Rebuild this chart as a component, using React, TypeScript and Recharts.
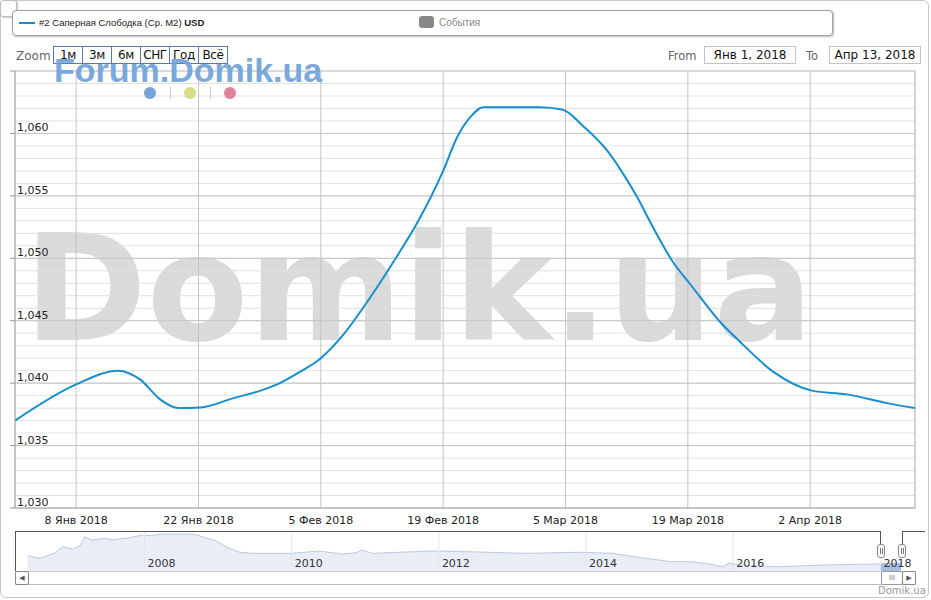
import React from 'react'
import {
  LineChart, Line, XAxis, YAxis, CartesianGrid, ReferenceLine,
  AreaChart, Area, ReferenceArea,
} from 'recharts'

// main series: day offset from Jan 1 2018 -> price, USD per m2
const days = [0, 7, 11.8, 14.3, 16.6, 18.7, 21.2, 25, 28.1, 30, 32.6, 35, 37.6, 40.3, 43.3, 46.4, 49, 50.6, 52.1, 53.6, 60.1, 62.7, 65, 67.8, 69.3, 71.2, 73, 75.3, 77.3, 80.7, 83, 86.8, 91.2, 95.2, 99.8, 103]
const prices = [1037.0, 1039.9, 1041.0, 1040.3, 1038.7, 1038.0, 1038.05, 1038.8, 1039.4, 1039.9, 1040.9, 1042.0, 1043.9, 1046.5, 1049.7, 1053.3, 1057.0, 1059.7, 1061.3, 1062.1, 1062.1, 1061.9, 1060.6, 1058.6, 1057.1, 1054.9, 1052.5, 1049.7, 1047.9, 1044.9, 1043.3, 1040.9, 1039.4, 1039.1, 1038.4, 1038.0]

const xTicks = [7, 21, 35, 49, 63, 77, 91]
const xTickLabels = ['8 Янв 2018', '22 Янв 2018', '5 Фев 2018', '19 Фев 2018', '5 Мар 2018', '19 Мар 2018', '2 Апр 2018']
const yMajor = [1030, 1035, 1040, 1045, 1050, 1055, 1060, 1065]

// navigator: year -> price
const navYears = [2006.41, 2006.58, 2006.78, 2006.89, 2007.02, 2007.12, 2007.19, 2007.28, 2007.48, 2007.57, 2007.8, 2007.97, 2008.07, 2008.24, 2008.61, 2008.71, 2008.98, 2009.11, 2009.29, 2009.47, 2010.01, 2010.37, 2010.69, 2010.88, 2010.96, 2011.09, 2011.91, 2012.41, 2013.18, 2013.9, 2014.35, 2014.81, 2015.16, 2015.44, 2015.71, 2015.85, 2015.94, 2016.11, 2016.58, 2017.25, 2017.93, 2018.28]
const navValues = [1122, 1094, 1151, 1219, 1194, 1230, 1327, 1292, 1310, 1295, 1316, 1346, 1338, 1356, 1356, 1346, 1281, 1219, 1159, 1148, 1148, 1173, 1140, 1154, 1184, 1148, 1173, 1165, 1148, 1159, 1148, 1094, 1057, 1057, 1029, 1003, 1040, 1022, 1003, 1022, 1032, 1040]
const navYearTicks = [2008, 2010, 2012, 2014, 2016, 2018]

const mainData = days.map((d, i) => ({ day: d, price: prices[i] }))
const navData = navYears.map((y, i) => ({ year: y, price: navValues[i] }))
const yTicks = Array.from({ length: 36 }, (_, i) => 1030 + i)

const LINE_COLOR = '#168ed0'
const PLOT_LEFT = 15
const FONT = 'DejaVu Sans, sans-serif'

function YTick({ y, payload }: any) {
  const v = payload.value
  if (v % 5 !== 0) return <g />
  return (
    <g>
      <line x1={PLOT_LEFT - 5} x2={PLOT_LEFT} y1={y} y2={y} stroke="#999" />
      {v < 1065 && (
        <text x={PLOT_LEFT + 2} y={y - 2} fontSize={11} fill="#222" fontFamily={FONT}>
          {v.toLocaleString('en-US')}
        </text>
      )}
    </g>
  )
}

function YearLabel({ viewBox, year }: any) {
  if (!viewBox) return null
  return (
    <text x={viewBox.x + 3} y={viewBox.y + viewBox.height - 4} fontSize={11} fill="#333" fontFamily={FONT}>
      {year}
    </text>
  )
}

const btn: React.CSSProperties = {
  width: 30, height: 18, boxSizing: 'border-box', border: '1px solid #5b7aa6',
  marginLeft: -1, display: 'flex', alignItems: 'center', justifyContent: 'center',
  fontSize: 12, color: '#111', fontFamily: FONT, background: '#fff', letterSpacing: -0.4,
}
const dateBox: React.CSSProperties = {
  position: 'absolute', top: 46, width: 92, height: 18, boxSizing: 'border-box',
  border: '1px solid #c4c4c4', fontSize: 12, fontFamily: FONT, color: '#111',
  display: 'flex', alignItems: 'center', justifyContent: 'center',
}
const abs = (s: React.CSSProperties): React.CSSProperties => ({ position: 'absolute', ...s })

export default function App() {
  return (
    <div style={{ position: 'absolute', left: 0, top: 0, width: 931, height: 600, background: '#fff', overflow: 'hidden', fontFamily: FONT }}>
      <div style={abs({ left: 0, top: 0, width: 929, height: 598, border: '1px solid #c8c8c8', borderRadius: 6, boxSizing: 'border-box' })} />
      <div style={abs({ left: 0, top: 0, width: 17, height: 17, border: '1px solid #bbb', borderRadius: 3, boxSizing: 'border-box', background: '#fff', boxShadow: '1px 1px 2px #ccc' })} />

      {/* watermark behind the plot */}
      <div style={abs({ left: 24, top: 215, fontSize: 148, lineHeight: 1, fontWeight: 'bold', color: '#dadada', fontFamily: FONT, whiteSpace: 'nowrap' })}>
        Domik.ua
      </div>

      {/* legend */}
      <div style={abs({ left: 12, top: 10, width: 821, height: 26, border: '1px solid #a0a0a0', borderRadius: 4, boxSizing: 'border-box', boxShadow: '1px 1px 2px #bbb', background: '#fff', zIndex: 2 })}>
        <div style={abs({ left: 6, top: 11, width: 16, height: 2, background: LINE_COLOR })} />
        <div style={abs({ left: 26, top: 6, fontSize: 9.5, color: '#222', fontFamily: 'Liberation Sans, Arial, sans-serif', whiteSpace: 'nowrap' })}>
          #2 Саперная Слободка (Ср. М2) <b>USD</b>
        </div>
        <div style={abs({ left: 406, top: 5, width: 15, height: 12, background: '#888', borderRadius: 3 })} />
        <div style={abs({ left: 426, top: 6, fontSize: 10, color: '#888', fontFamily: 'Liberation Sans, Arial, sans-serif' })}>События</div>
      </div>

      {/* range selector */}
      <div style={abs({ left: 16, top: 49, fontSize: 12, color: '#666' })}>Zoom</div>
      <div style={abs({ left: 54, top: 46, display: 'flex', zIndex: 2 })}>
        {['1м', '3м', '6м', 'СНГ', 'Год', 'Всё'].map((t) => (
          <div key={t} style={btn}>{t}</div>
        ))}
      </div>
      <div style={abs({ left: 668, top: 49, fontSize: 11.5, color: '#666' })}>From</div>
      <div style={{ ...dateBox, left: 704 }}>Янв 1, 2018</div>
      <div style={abs({ left: 806, top: 49, fontSize: 11.5, color: '#666' })}>To</div>
      <div style={{ ...dateBox, left: 829 }}>Апр 13, 2018</div>

      {/* forum mark */}
      <div style={abs({ left: 54, top: 53, fontSize: 34, lineHeight: 1, fontWeight: 'bold', color: '#6fa2da', opacity: 0.92, fontFamily: 'Liberation Sans, Arial, sans-serif', zIndex: 3, whiteSpace: 'nowrap' })}>
        Forum.Domik.ua
      </div>
      <div style={abs({ left: 144, top: 87, width: 12, height: 12, borderRadius: 6, background: '#74a4da', zIndex: 3 })} />
      <div style={abs({ left: 170, top: 87, width: 1, height: 12, background: '#ccc', zIndex: 3 })} />
      <div style={abs({ left: 184, top: 87, width: 12, height: 12, borderRadius: 6, background: '#d6de86', zIndex: 3 })} />
      <div style={abs({ left: 210, top: 87, width: 1, height: 12, background: '#ccc', zIndex: 3 })} />
      <div style={abs({ left: 224, top: 87, width: 12, height: 12, borderRadius: 6, background: '#e0809a', zIndex: 3 })} />

      {/* main chart */}
      <div style={abs({ left: 0, top: 0, zIndex: 1 })}>
        <LineChart width={931} height={530} data={mainData} margin={{ top: 71, right: 16, bottom: 0, left: 0 }}>
          <CartesianGrid stroke="#e0e0e0" vertical={false} />
          <CartesianGrid stroke="#c4c4c4" horizontal={false} />
          {yMajor.slice(1).map((v) => (
            <ReferenceLine key={v} y={v} stroke="#c4c4c4" />
          ))}
          <ReferenceLine x={103} stroke="#c4c4c4" />
          <XAxis
            dataKey="day"
            type="number"
            domain={[0, 103]}
            ticks={xTicks}
            interval={0}
            tickFormatter={(v: number) => xTickLabels[xTicks.indexOf(v)]}
            tick={{ fontSize: 11, fill: '#222', fontFamily: FONT }}
            tickLine={false}
            axisLine={{ stroke: '#999' }}
            height={22}
            allowDataOverflow
          />
          <YAxis
            domain={[1030, 1065]}
            ticks={yTicks}
            interval={0}
            width={15}
            tick={<YTick />}
            tickLine={false}
            axisLine={{ stroke: '#aaa' }}
            allowDataOverflow
          />
          <Line
            type="monotone"
            dataKey="price"
            stroke={LINE_COLOR}
            strokeWidth={2}
            dot={false}
            isAnimationActive={false}
          />
        </LineChart>
      </div>

      {/* navigator */}
      <div style={abs({ left: 15, top: 531, zIndex: 1 })}>
        <AreaChart width={900} height={40} data={navData} margin={{ top: 0, right: 0, bottom: 0, left: 0 }}>
          <XAxis dataKey="year" type="number" domain={[2006.24, 2018.47]} hide allowDataOverflow />
          <YAxis domain={[957, 1389]} hide allowDataOverflow />
          {navYearTicks.map((yr) => (
            <ReferenceLine key={yr} x={yr} stroke="#e6e6e6" label={<YearLabel year={yr} />} />
          ))}
          <Area
            type="linear"
            dataKey="price"
            stroke="#b9cae4"
            strokeWidth={1}
            fill="#e8edf6"
            fillOpacity={1}
            isAnimationActive={false}
          />
          <ReferenceArea x1={2018.0} x2={2018.28} y1={957} y2={navValues[navValues.length - 1]} fill="#a6bddd" fillOpacity={1} stroke="none" />
        </AreaChart>
      </div>
      {/* navigator outline and handles */}
      <div style={abs({ left: 15, top: 531, width: 866, height: 40, borderTop: '1px solid #555', borderLeft: '1px solid #555', borderRight: '1px solid #555', boxSizing: 'border-box', zIndex: 2, clipPath: 'inset(0 0 26px 0)' })} />
      <div style={abs({ left: 15, top: 531, width: 1, height: 40, background: '#555', zIndex: 2 })} />
      <div style={abs({ left: 902, top: 531, width: 23, height: 14, borderTop: '1px solid #555', borderLeft: '1px solid #555', boxSizing: 'border-box', zIndex: 2 })} />
      {[877, 898].map((x) => (
        <div key={x} style={abs({ left: x, top: 544, width: 8, height: 14, border: '1px solid #888', borderRadius: 3, background: '#fff', boxSizing: 'border-box', zIndex: 3, display: 'flex', justifyContent: 'center', alignItems: 'center', gap: 1 })}>
          <div style={{ width: 1, height: 6, background: '#777' }} />
          <div style={{ width: 1, height: 6, background: '#777' }} />
        </div>
      ))}

      {/* scrollbar */}
      <div style={abs({ left: 15, top: 571, width: 901, height: 14, borderTop: '1px solid #ccc', borderBottom: '1px solid #bbb', boxSizing: 'border-box', zIndex: 2 })} />
      <div style={abs({ left: 15, top: 571, width: 14, height: 14, border: '1px solid #888', borderRadius: 2, boxSizing: 'border-box', fontSize: 7, color: '#555', display: 'flex', alignItems: 'center', justifyContent: 'center', zIndex: 3, background: '#fff' })}>◀</div>
      <div style={abs({ left: 881, top: 571, width: 22, height: 14, border: '1px solid #999', borderRadius: 2, boxSizing: 'border-box', fontSize: 7, color: '#777', display: 'flex', alignItems: 'center', justifyContent: 'center', zIndex: 3, background: '#fff', letterSpacing: 0 })}>III</div>
      <div style={abs({ left: 902, top: 571, width: 14, height: 14, border: '1px solid #888', borderRadius: 2, boxSizing: 'border-box', fontSize: 7, color: '#555', display: 'flex', alignItems: 'center', justifyContent: 'center', zIndex: 3, background: '#fff' })}>▶</div>

      <div style={abs({ left: 878, top: 585, fontSize: 10, color: '#999' })}>Domik.ua</div>
    </div>
  )
}
